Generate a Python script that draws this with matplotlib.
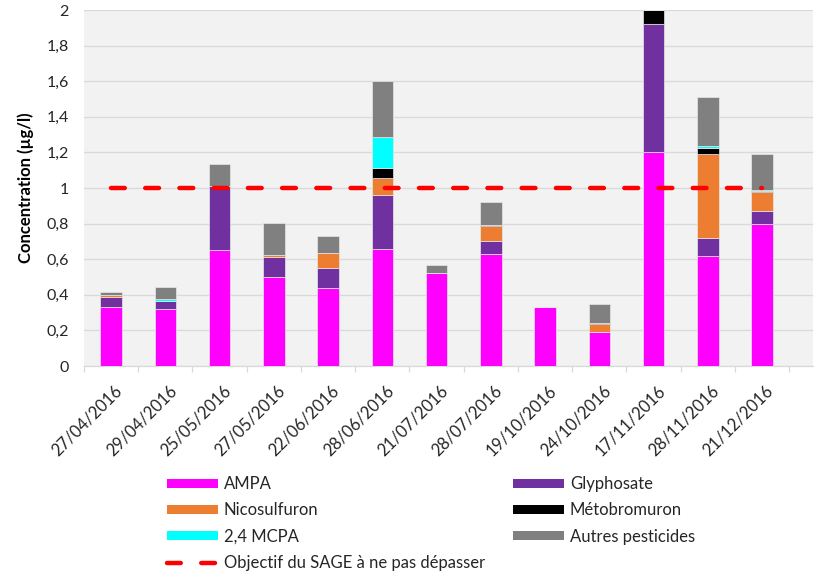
import matplotlib
matplotlib.use("Agg")
import matplotlib.pyplot as plt
import matplotlib.transforms as mtransforms
from matplotlib.patches import Patch
from matplotlib.lines import Line2D
import numpy as np

plt.rcParams['font.family'] = ['Lato', 'DejaVu Sans']

dates = ["27/04/2016", "29/04/2016", "25/05/2016", "27/05/2016", "22/06/2016",
         "28/06/2016", "21/07/2016", "28/07/2016", "19/10/2016", "24/10/2016",
         "17/11/2016", "28/11/2016", "21/12/2016"]

ampa         = [0.33, 0.32, 0.65, 0.50, 0.44, 0.66, 0.52, 0.63, 0.33, 0.19, 1.20, 0.62, 0.80]
glyphosate   = [0.06, 0.047, 0.36, 0.11, 0.11, 0.30, 0.00, 0.07, 0.00, 0.00, 0.72, 0.10, 0.07]
nicosulfuron = [0.008, 0.00, 0.00, 0.012, 0.083, 0.095, 0.00, 0.087, 0.00, 0.045, 0.00, 0.47, 0.108]
metobromuron = [0.00, 0.00, 0.00, 0.00, 0.00, 0.055, 0.00, 0.005, 0.00, 0.005, 0.08, 0.037, 0.005]
mcpa         = [0.00, 0.007, 0.00, 0.00, 0.00, 0.175, 0.00, 0.00, 0.00, 0.00, 0.00, 0.01, 0.007]
autres       = [0.02, 0.068, 0.125, 0.18, 0.10, 0.315, 0.05, 0.128, 0.00, 0.11, 0.00, 0.277, 0.20]
objectif     = [1.0] * len(dates)

series = [
    ("AMPA", ampa, "#FF00FF"),
    ("Glyphosate", glyphosate, "#7030A0"),
    ("Nicosulfuron", nicosulfuron, "#ED7D31"),
    ("Métobromuron", metobromuron, "#000000"),
    ("2,4 MCPA", mcpa, "#00FFFF"),
    ("Autres pesticides", autres, "#808080"),
]

fig = plt.figure(figsize=(8.2, 5.81), dpi=100)
W, H = 820, 581
ax = fig.add_axes([84 / W, 1 - 366 / H, (813 - 84) / W, (366 - 10) / H])
ax.set_facecolor("#F2F2F2")

x = np.arange(len(dates))
bottom = np.zeros(len(dates))
for name, vals, col in series:
    v = np.array(vals)
    ax.bar(x, v, width=0.40, bottom=bottom, color=col,
           edgecolor="#E8E8E8", linewidth=0.5, zorder=3)
    bottom += v

dash = (0, (3.1, 4.6))
ax.plot(x, objectif, color="#FF0000", lw=3.2, linestyle=dash,
        dash_capstyle="round", solid_capstyle="round", zorder=4)

ax.set_xlim(-0.5, -0.5 + (813 - 84) / 54.25)
ax.set_ylim(0, 2)
yt = np.arange(0, 2.01, 0.2)
ax.set_yticks(yt)
ax.set_yticklabels(["0" if abs(t) < 1e-9 else ("%g" % round(t, 1)).replace(".", ",")
                    for t in yt])
ax.grid(axis="y", color="#D9D9D9", lw=0.9, zorder=0)
ax.set_axisbelow(True)

for s in ["top", "right", "left"]:
    ax.spines[s].set_visible(False)
ax.spines["bottom"].set_color("#D9D9D9")
ax.spines["bottom"].set_linewidth(0.9)

ax.set_xticks(x)
ax.set_xticklabels(dates, rotation=45, ha="right", va="top",
                   rotation_mode="anchor", fontsize=12, color="#262626")
ax.set_xticks(np.arange(-0.5, len(dates), 1.0), minor=True)
ax.tick_params(axis="x", which="major", length=0, pad=12)
ax.tick_params(axis="x", which="minor", length=4, width=0.9, color="#D9D9D9")
ax.tick_params(axis="y", length=0, pad=11, labelsize=11.5, labelcolor="#262626")

shift = mtransforms.ScaledTranslation(3 / 100, 0, fig.dpi_scale_trans)
for lab in ax.get_xticklabels():
    lab.set_transform(lab.get_transform() + shift)

ax.set_ylabel("Concentration (µg/l)", fontsize=12, fontweight="bold", color="#000000")
ax.yaxis.set_label_coords(-0.068, 0.5)

fs = 12
left_handles = [
    Patch(facecolor="#FF00FF", edgecolor="none"),
    Patch(facecolor="#ED7D31", edgecolor="none"),
    Patch(facecolor="#00FFFF", edgecolor="none"),
    Line2D([], [], color="#FF0000", lw=3.2, linestyle=dash, dash_capstyle="round"),
]
left_labels = ["AMPA", "Nicosulfuron", "2,4 MCPA", "Objectif du SAGE à ne pas dépasser"]
right_handles = [
    Patch(facecolor="#7030A0", edgecolor="none"),
    Patch(facecolor="#000000", edgecolor="none"),
    Patch(facecolor="#808080", edgecolor="none"),
]
right_labels = ["Glyphosate", "Métobromuron", "Autres pesticides"]

common = dict(loc="upper left", frameon=False, borderpad=0, borderaxespad=0,
              fontsize=fs, handlelength=51 / (fs * 100 / 72),
              handleheight=0.46, handletextpad=0.36, labelspacing=0.62,
              labelcolor="#262626")
fig.legend(left_handles, left_labels, bbox_to_anchor=(167 / W, 1 - 476 / H), **common)
fig.legend(right_handles, right_labels, bbox_to_anchor=(513 / W, 1 - 476 / H), **common)

fig.savefig("out.png", dpi=100)
